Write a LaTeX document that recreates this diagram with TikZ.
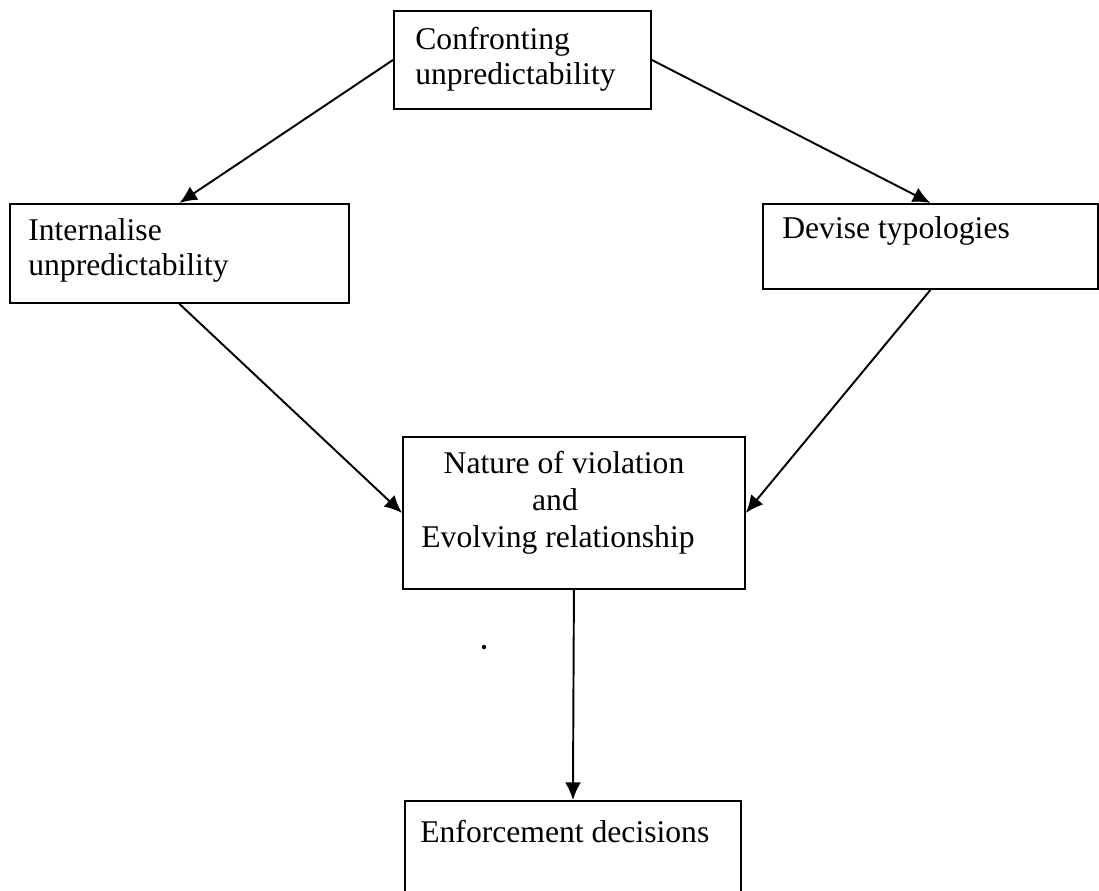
\documentclass[tikz,border=0pt]{standalone}
\usepackage{fontspec}
\setmainfont{Liberation Serif}
\usetikzlibrary{arrows.meta,positioning}

\tikzset{
  blk/.style={draw, rectangle, line width=1.1pt, anchor=north west, inner sep=0pt},
  lbl/.style={anchor=base west, inner sep=0pt, font=\fontsize{18pt}{20pt}\selectfont},
  flow/.style={line width=1.1pt, -{Latex[length=10pt,width=9pt]}}
}

\begin{document}
\begin{tikzpicture}[x=0.02cm,y=-0.02cm]
	\useasboundingbox (0,0) rectangle (1099,890);
	% boxes
	\node[blk, minimum width=5.14cm, minimum height=1.96cm] (conf) at (393,10) {};
	\node[blk, minimum width=6.78cm, minimum height=1.98cm] (intern) at (9,203) {};
	\node[blk, minimum width=6.7cm, minimum height=1.7cm] (devise) at (762,203) {};
	\node[blk, minimum width=6.84cm, minimum height=3.04cm] (nature) at (402,436) {};
	\node[blk, minimum width=6.72cm, minimum height=2.6cm] (enforce) at (404,800) {};
	% texts
	\node[lbl] (conf1) at (415,49) {Confronting};
	\node[lbl] (conf2) at (415,84) {unpredictability};
	\node[lbl] (intern1) at (28,240) {Internalise};
	\node[lbl] (intern2) at (28,275) {unpredictability};
	\node[lbl] (devise1) at (782,238) {Devise typologies};
	\node[lbl, anchor=base] (nature1) at (564,473) {Nature of violation};
	\node[lbl, anchor=base] (nature2) at (555,510) {and};
	\node[lbl, anchor=base] (nature3) at (558,547) {Evolving relationship};
	\node[lbl] (enforce1) at (420,842) {Enforcement decisions};
	% connectors
	\draw[flow] (conf.west) -- (intern.north);
	\draw[flow] (conf.east) -- (devise.north);
	\draw[flow] (intern.south) -- (nature.west);
	\draw[flow] (devise.south) -- (nature.east);
	\draw[flow] (nature.south) -- (enforce.north);
	\fill (484,647) circle (0.045cm);
\end{tikzpicture}
\end{document}
